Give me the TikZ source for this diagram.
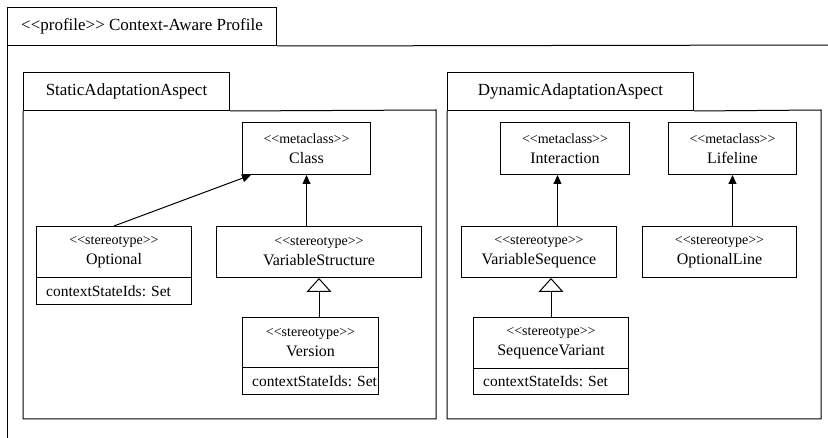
\documentclass[tikz,border=0pt]{standalone}
\usepackage{fontspec}
\setmainfont{Liberation Serif}
\usetikzlibrary{arrows.meta,calc}

\tikzset{
  frame/.style={draw, line width=1pt},
  tabbox/.style={draw, line width=1pt, anchor=north west, inner sep=0pt,
    font=\fontsize{17}{19}\selectfont},
  cls/.style={draw, line width=1pt, anchor=north west, inner sep=0pt,
    align=center, font=\fontsize{16}{20}\selectfont},
  attr/.style={anchor=north west, inner ysep=0pt,
    inner xsep=10pt, align=left, font=\fontsize{15.5}{17}\selectfont},
  assoc/.style={line width=1pt, -{Triangle[length=9pt, width=8pt]}},
  gen/.style={line width=1pt, -{Triangle[open, length=14pt, width=25pt, line width=1pt]}},
}
% plain angle brackets, no guillemet ligature
\newcommand{\lguil}{<\kern0pt<}
\newcommand{\rguil}{>\kern0pt>}
\newcommand{\stereo}[1]{{\fontsize{14}{14}\selectfont\lguil#1\rguil}}
% attribute compartment: three sides below its class box
\newcommand{\compartment}[1]{\draw[frame] (#1.north west) |- (#1.south east) -- (#1.north east);}
\frenchspacing

\begin{document}
\begin{tikzpicture}[x=1pt, y=-1pt]
\useasboundingbox (0,0) rectangle (828,438);

% profile frame: tab, top edge and left edge
\node[tabbox, minimum width=269pt, minimum height=38pt] (ptab) at (7,7)
  {\lguil profile\rguil{} Context-Aware Profile};
\draw[frame] (ptab.south east) -- (830,45);
\draw[frame] (ptab.north west) -- (7,440);

% package StaticAdaptationAspect
\node[tabbox, minimum width=206pt, minimum height=38pt] (stab) at (23,72)
  {StaticAdaptationAspect};
\draw[frame] (stab.south east) -- (436,110) -- (436,419) -- (23,419) -- (stab.south west);

% package DynamicAdaptationAspect
\node[tabbox, minimum width=246pt, minimum height=38pt] (dtab) at (447,72)
  {DynamicAdaptationAspect};
\draw[frame] (dtab.south east) -- (821,110) -- (821,419) -- (447,419) -- (dtab.south west);

% static classes
\node[cls, minimum width=128pt, minimum height=52pt] (class) at (242,122)
  {\stereo{metaclass}\\Class};
\node[cls, minimum width=155pt, minimum height=51pt] (opt) at (36,226)
  {\stereo{stereotype}\\Optional};
\node[attr, minimum width=155pt, minimum height=26pt, text width=135pt] (optattr) at (opt.south west)
  {contextStateIds: Set};
\compartment{optattr}
\node[cls, minimum width=205pt, minimum height=51pt] (vs) at (216,226)
  {\stereo{stereotype}\\VariableStructure};
\node[cls, minimum width=136pt, minimum height=50pt] (ver) at (242,317)
  {\stereo{stereotype}\\Version};
\node[attr, minimum width=136pt, minimum height=26pt, text width=116pt] (verattr) at (ver.south west)
  {contextStateIds:~Set};
\compartment{verattr}

% dynamic classes
\node[cls, minimum width=129pt, minimum height=52pt] (inter) at (500,122)
  {\stereo{metaclass}\\Interaction};
\node[cls, minimum width=128pt, minimum height=52pt] (life) at (668,122)
  {\stereo{metaclass}\\Lifeline};
\node[cls, minimum width=155pt, minimum height=51pt] (vseq) at (461,226)
  {\stereo{stereotype}\\VariableSequence};
\node[cls, minimum width=154pt, minimum height=51pt] (oline) at (642,226)
  {\stereo{stereotype}\\OptionalLine};
\node[cls, minimum width=155pt, minimum height=51pt] (sv) at (473,317)
  {\stereo{stereotype}\\SequenceVariant};
\node[attr, minimum width=155pt, minimum height=25pt, text width=135pt] (svattr) at (sv.south west)
  {contextStateIds: Set};
\compartment{svattr}

% extensions and generalizations
\coordinate (cl) at ([xshift=9pt]class.south west);
\draw[assoc] (opt.north) -- (cl);
\draw[assoc] (class.south |- vs.north) -- (class.south);
\draw[gen] (vs.south |- ver.north) -- (vs.south);

\coordinate (ia) at ([xshift=-7.5pt]inter.south);
\draw[assoc] (ia |- vseq.north) -- (ia);
\draw[assoc] (life.south |- oline.north) -- (life.south);
\draw[gen] (sv.north) -- (sv.north |- vseq.south);
\end{tikzpicture}
\end{document}
